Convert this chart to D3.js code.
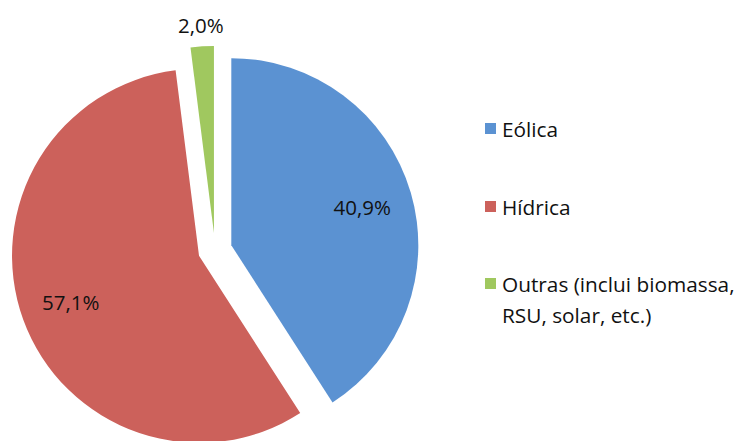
<!DOCTYPE html>
<html>
<head>
<meta charset="utf-8">
<script src="https://cdn.jsdelivr.net/npm/d3@7"></script>
<style>
  html, body { margin: 0; padding: 0; background: #fff; }
  svg { display: block; }
  text { font-family: "Open Sans", "Noto Sans", sans-serif; fill: #111; }
</style>
</head>
<body>
<svg id="chart" width="740" height="441"></svg>
<script>
const categories = ["Eólica", "Hídrica", "Outras (inclui biomassa, RSU, solar, etc.)"];
const legendLines = [["Eólica"], ["Hídrica"], ["Outras (inclui biomassa,", "RSU, solar, etc.)"]];
const values = [40.9, 57.1, 2.0];
const valueLabels = ["40,9%", "57,1%", "2,0%"];
const colors = ["#5b92d2", "#cc615b", "#a0c85f"];

const svg = d3.select("#chart");
const cx = 215, cy = 250, r = 187, explode = 17;

const pie = d3.pie().sort(null).value(d => d)(values);
const arc = d3.arc().innerRadius(0).outerRadius(r);

const g = svg.append("g").attr("transform", `translate(${cx},${cy})`);

pie.forEach((p, i) => {
  const mid = (p.startAngle + p.endAngle) / 2;
  const dx = Math.sin(mid) * explode, dy = -Math.cos(mid) * explode;
  const sg = g.append("g").attr("transform", `translate(${dx},${dy})`);
  sg.append("path").attr("d", arc(p)).attr("fill", colors[i]);
  const inside = values[i] > 5;
  const dist = inside ? r * 0.73 : r + 21;
  sg.append("text")
    .attr("x", Math.sin(mid) * dist)
    .attr("y", -Math.cos(mid) * dist)
    .attr("text-anchor", "middle")
    .attr("dominant-baseline", "central")
    .attr("font-size", 20.5)
    .text(valueLabels[i]);
});

// Legend
const legend = svg.append("g");
const baseY = [137, 215, 292];
legendLines.forEach((lines, i) => {
  const lg = legend.append("g").attr("transform", `translate(485,${baseY[i]})`);
  lg.append("rect").attr("x", 0).attr("y", -14).attr("width", 11).attr("height", 11).attr("fill", colors[i]);
  lines.forEach((t, j) => {
    lg.append("text")
      .attr("x", 17)
      .attr("y", j * 31)
      .attr("font-size", 20.8)
      .text(t);
  });
});
</script>
</body>
</html>
